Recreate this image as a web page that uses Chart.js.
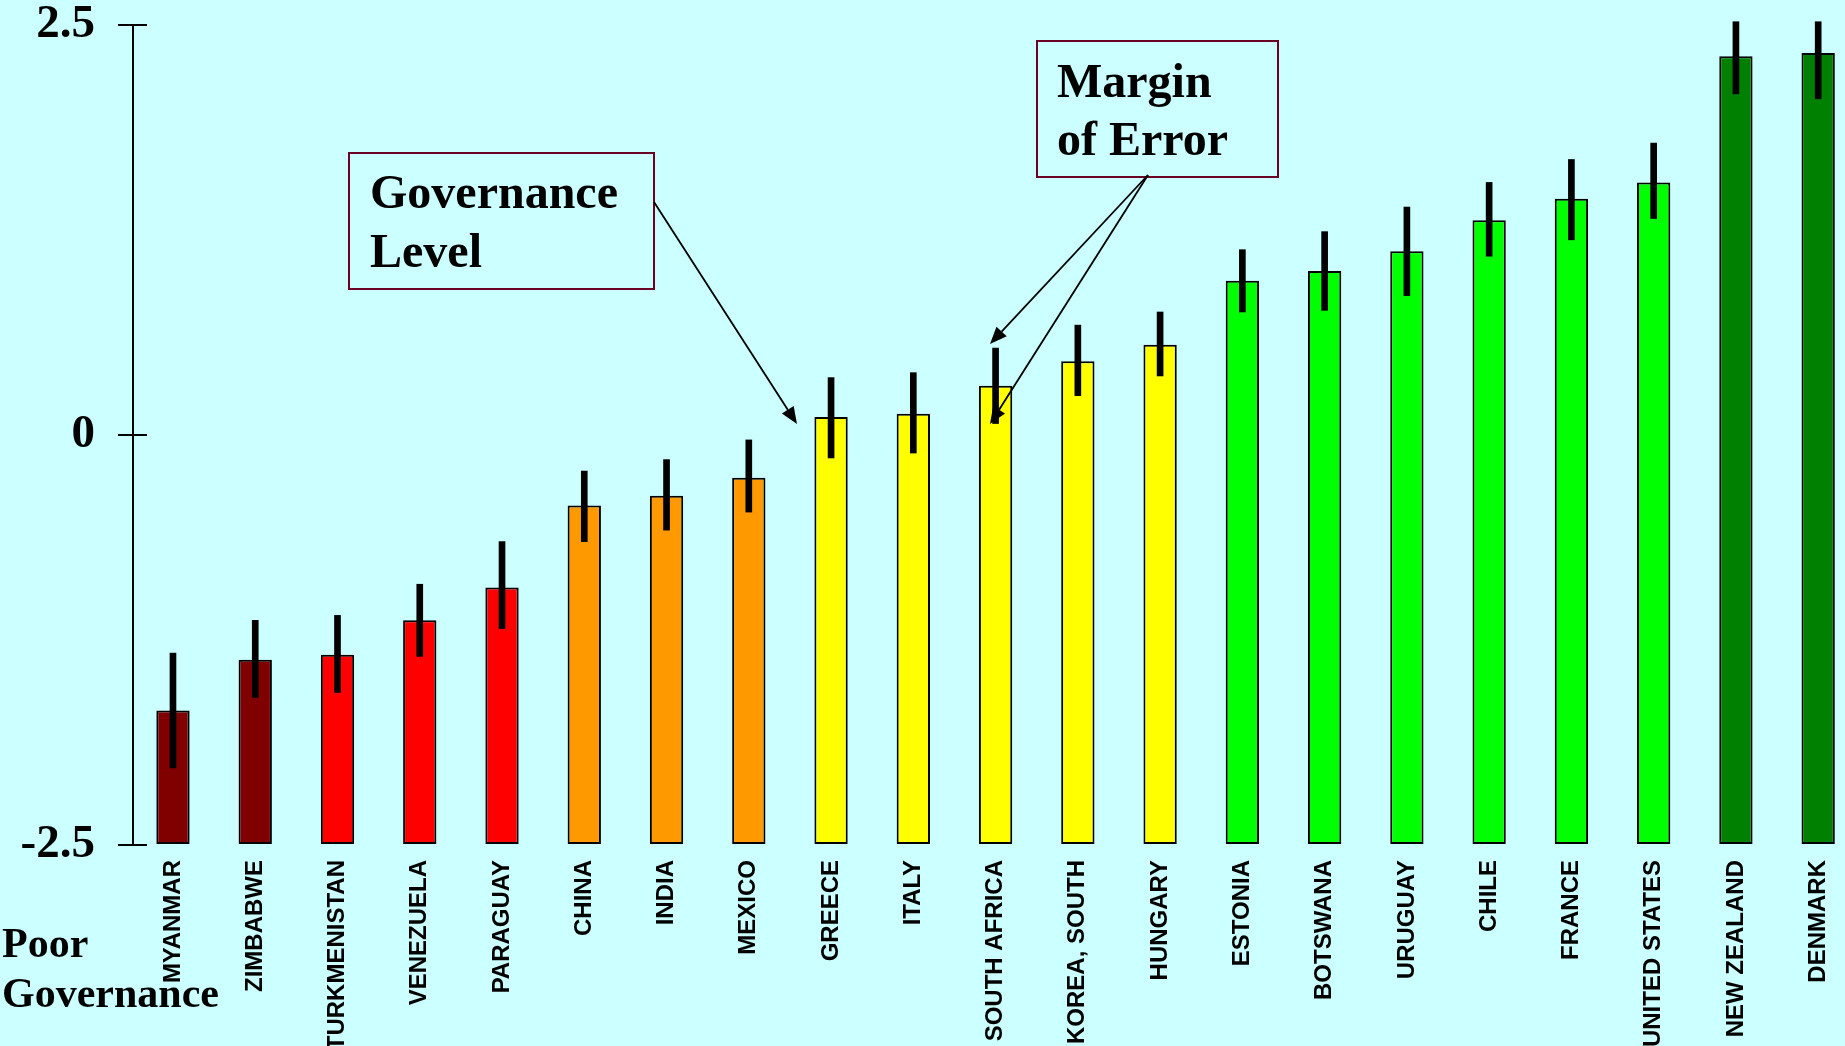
<!DOCTYPE html>
<html>
<head>
<meta charset="utf-8">
<title>Governance Level</title>
<script src="https://cdn.jsdelivr.net/npm/chart.js@4"></script>
<style>
    html, body { margin: 0; padding: 0; background: #CCFFFF; }
    #wrap { width: 1845px; height: 1046px; position: relative; }
</style>
</head>
<body>
<div id="wrap"><canvas id="govChart"></canvas></div>
<script>
const countries = ['MYANMAR', 'ZIMBABWE', 'TURKMENISTAN', 'VENEZUELA', 'PARAGUAY', 'CHINA', 'INDIA', 'MEXICO',
    'GREECE', 'ITALY', 'SOUTH AFRICA', 'KOREA, SOUTH', 'HUNGARY', 'ESTONIA', 'BOTSWANA', 'URUGUAY',
    'CHILE', 'FRANCE', 'UNITED STATES', 'NEW ZEALAND', 'DENMARK'];
const levels = [-1.68, -1.37, -1.34, -1.13, -0.93, -0.43, -0.37, -0.26, 0.11, 0.13, 0.30, 0.45, 0.55,
    0.94, 1.00, 1.12, 1.31, 1.44, 1.54, 2.31, 2.33];
const errHigh = [-1.33, -1.13, -1.10, -0.91, -0.65, -0.22, -0.15, -0.03, 0.35, 0.38, 0.53, 0.67, 0.75,
    1.13, 1.24, 1.39, 1.54, 1.68, 1.78, 2.52, 2.52];
const errLow = [-2.03, -1.60, -1.57, -1.35, -1.18, -0.65, -0.58, -0.47, -0.14, -0.11, 0.07, 0.24, 0.36,
    0.75, 0.76, 0.85, 1.09, 1.19, 1.32, 2.08, 2.05];
const barColors = ['#800000', '#800000', '#FF0000', '#FF0000', '#FF0000', '#FF9900', '#FF9900', '#FF9900',
    '#FFFF00', '#FFFF00', '#FFFF00', '#FFFF00', '#FFFF00', '#00FF00', '#00FF00', '#00FF00',
    '#00FF00', '#00FF00', '#00FF00', '#008000', '#008000'];
const yTicks = [-2.5, 0, 2.5];

const serif = '"Liberation Serif", "Times New Roman", serif';
const sans = '"Liberation Sans", Arial, sans-serif';

// inner half of the y ticks, the boxes and arrows, and the bottom-left caption
const extras = {
    id: 'extras',
    afterDraw(chart) {
        const ctx = chart.ctx;
        const y = chart.scales.y;
        const left = chart.chartArea.left;
        ctx.save();
        ctx.strokeStyle = '#000';
        ctx.lineWidth = 2;
        yTicks.forEach(t => {
            const py = Math.round(y.getPixelForValue(t));
            ctx.beginPath();
            ctx.moveTo(left, py);
            ctx.lineTo(left + 14, py);
            ctx.stroke();
        });

        // annotation boxes
        ctx.strokeStyle = '#6B0022';
        ctx.lineWidth = 2;
        ctx.strokeRect(349, 153, 305, 136);
        ctx.strokeRect(1037, 41, 241, 136);
        ctx.fillStyle = '#000';
        ctx.font = 'bold 48px ' + serif;
        ctx.textBaseline = 'alphabetic';
        ctx.textAlign = 'left';
        ctx.fillText('Governance', 370, 208);
        ctx.fillText('Level', 370, 267);
        ctx.fillText('Margin', 1057, 97);
        ctx.fillText('of Error', 1057, 155);

        ctx.font = 'bold 42px ' + serif;
        ctx.fillText('Poor', 2, 957);
        ctx.fillText('Governance', 2, 1007);

        // arrows
        const arrow = (x1, y1, x2, y2) => {
            const a = Math.atan2(y2 - y1, x2 - x1);
            const len = 17, half = 7;
            const bx = x2 - len * Math.cos(a), by = y2 - len * Math.sin(a);
            ctx.strokeStyle = '#000';
            ctx.lineWidth = 1.8;
            ctx.beginPath();
            ctx.moveTo(x1, y1);
            ctx.lineTo(bx, by);
            ctx.stroke();
            ctx.beginPath();
            ctx.moveTo(x2, y2);
            ctx.lineTo(bx + half * Math.sin(a), by - half * Math.cos(a));
            ctx.lineTo(bx - half * Math.sin(a), by + half * Math.cos(a));
            ctx.closePath();
            ctx.fill();
        };
        arrow(654, 202, 797, 424);
        arrow(1148, 175, 990, 344);
        arrow(1148, 175, 990, 424);
        ctx.restore();
    }
};

new Chart(document.getElementById('govChart'), {
    type: 'bar',
    data: {
        datasets: [
            {
                label: 'Margin of Error',
                data: countries.map((c, i) => ({ x: i, y: [errLow[i], errHigh[i]] })),
                backgroundColor: '#000',
                borderWidth: 0,
                barThickness: 6,
                grouped: false,
                clip: false,
                order: 0
            },
            {
                label: 'Governance Level',
                data: countries.map((c, i) => ({ x: i, y: levels[i] })),
                base: yTicks[0],
                backgroundColor: barColors,
                borderColor: '#000',
                borderWidth: 2,
                borderSkipped: false,
                barPercentage: 0.405,
                categoryPercentage: 1,
                grouped: false,
                clip: false,
                order: 1
            }
        ]
    },
    options: {
        responsive: true,
        maintainAspectRatio: false,
        animation: false,
        layout: { padding: { top: 25, left: 0, right: 0, bottom: 0 } },
        plugins: {
            legend: { display: false },
            tooltip: { enabled: false }
        },
        scales: {
            x: {
                type: 'linear',
                offset: false,
                min: -0.486,
                max: 20.326,
                afterBuildTicks: s => { s.ticks = countries.map((c, i) => ({ value: i })); },
                afterFit: s => { s.height = 201; s.paddingLeft = 0; s.paddingRight = 0; },
                grid: { display: false, drawTicks: false, offset: false },
                border: { display: false },
                ticks: {
                    autoSkip: false,
                    minRotation: 90,
                    maxRotation: 90,
                    padding: 15,
                    color: '#000',
                    font: { family: sans, size: 24, weight: 'bold' },
                    callback: v => countries[v]
                }
            },
            y: {
                min: yTicks[0],
                max: yTicks[yTicks.length - 1],
                afterBuildTicks: s => { s.ticks = yTicks.map(v => ({ value: v })); },
                afterFit: s => { s.width = 133; s.paddingTop = 0; s.paddingBottom = 0; },
                grid: { drawOnChartArea: false, drawTicks: true, tickLength: 15, color: '#000', lineWidth: 2 },
                border: { display: true, color: '#000', width: 2 },
                ticks: {
                    padding: 23,
                    color: '#000',
                    font: { family: serif, size: 47, weight: 'bold' },
                    callback: v => String(v)
                }
            }
        }
    },
    plugins: [extras]
});
</script>
</body>
</html>
